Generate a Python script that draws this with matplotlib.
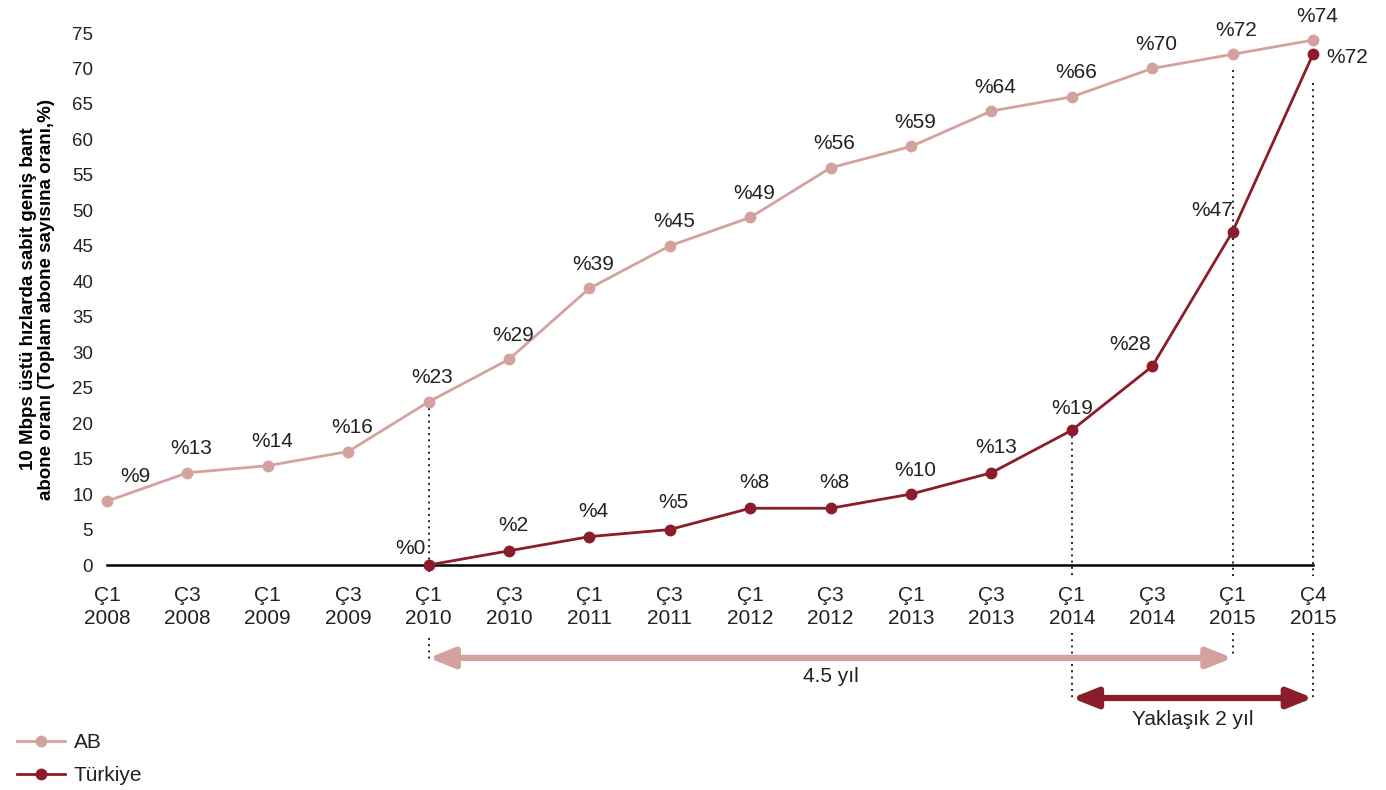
import numpy as np
import matplotlib.pyplot as plt

plt.rcParams['font.family'] = ['Liberation Sans', 'DejaVu Sans']

# quarters on the x axis
quarters = ['Ç1\n2008', 'Ç3\n2008', 'Ç1\n2009', 'Ç3\n2009', 'Ç1\n2010', 'Ç3\n2010',
            'Ç1\n2011', 'Ç3\n2011', 'Ç1\n2012', 'Ç3\n2012', 'Ç1\n2013', 'Ç3\n2013',
            'Ç1\n2014', 'Ç3\n2014', 'Ç1\n2015', 'Ç4\n2015']

# share of fixed broadband subscriptions above 10 Mbps (%)
ab = [9, 13, 14, 16, 23, 29, 39, 45, 49, 56, 59, 64, 66, 70, 72, 74]
tr_start = 4
turkiye = [0, 2, 4, 5, 8, 8, 10, 13, 19, 28, 47, 72]

ab_color = '#d4a29e'
tr_color = '#8a1d29'
txt_color = '#222222'
dot_color = '#222222'

x = np.arange(len(quarters))
x_tr = np.arange(tr_start, tr_start + len(turkiye))

fig = plt.figure(figsize=(13.86, 7.90), dpi=100)
ax = fig.add_axes([107 / 1386, 1 - 565 / 790, 1206 / 1386, 532 / 790])

ax.plot(x, ab, color=ab_color, lw=2, marker='o', ms=7.5, label='AB', zorder=3, clip_on=False)
ax.plot(x_tr, turkiye, color=tr_color, lw=2, marker='o', ms=7.5, label='Türkiye',
        zorder=4, clip_on=False)
ax.axhline(0, color='black', lw=1.8, zorder=2, clip_on=False)

ax.set_xlim(0, len(quarters) - 1)
ax.set_ylim(0, 75)
ax.set_yticks(np.arange(0, 80, 5))
ax.set_xticks(x)
ax.set_xticklabels(quarters, fontsize=15, color=txt_color, linespacing=1.25)
ax.tick_params(axis='y', length=0, pad=10, labelsize=13.5, labelcolor=txt_color)
ax.tick_params(axis='x', length=0, pad=15)
for s in ax.spines.values():
    s.set_visible(False)

ax.set_ylabel('10 Mbps üstü hızlarda sabit geniş bant\nabone oranı (Toplam abone sayısına oranı,%)',
              fontsize=13.5, fontweight='bold', linespacing=1.05)
ax.yaxis.set_label_coords(-0.043, 0.5)

# value labels, pixel offsets from each point
ab_off = [(28, 25)] + [(4, 24)] * (len(ab) - 1)
tr_off = [(-18, 16), (4, 25), (4, 25), (4, 27), (4, 26), (4, 26), (4, 24), (5, 25),
          (0, 22), (-22, 22), (-20, 21), (34, -3)]
for xi, v, (dx, dy) in zip(x, ab, ab_off):
    ax.annotate('%' + str(v), (xi, v), xytext=(dx, dy), textcoords='offset pixels',
                ha='center', va='center', fontsize=15, color=txt_color, annotation_clip=False)
for xi, v, (dx, dy) in zip(x_tr, turkiye, tr_off):
    ax.annotate('%' + str(v), (xi, v), xytext=(dx, dy), textcoords='offset pixels',
                ha='center', va='center', fontsize=15, color=txt_color, annotation_clip=False)

# dotted guides: above the axis and below the tick labels
dot_kw = dict(color=dot_color, ls=(0, (1, 2.2)), lw=1.4, clip_on=False, zorder=1)
ax.plot([4, 4], [ab[4], -1.5], **dot_kw)
ax.plot([4, 4], [-10.3, -13.4], **dot_kw)
ax.plot([12, 12], [turkiye[12 - tr_start], -1.5], **dot_kw)
ax.plot([12, 12], [-9.6, -19.0], **dot_kw)
ax.plot([14, 14], [69.8, -1.5], **dot_kw)
ax.plot([14, 14], [-9.6, -12.8], **dot_kw)
ax.plot([15, 15], [67.9, -1.5], **dot_kw)
ax.plot([15, 15], [-9.6, -19.0], **dot_kw)

# time span arrows
arrow_style = '<|-|>,head_length=1.5,head_width=0.6'
ax.annotate('', xy=(14, -13.1), xytext=(4, -13.1), annotation_clip=False,
            arrowprops=dict(arrowstyle=arrow_style, color=ab_color, lw=4.5, shrinkA=0, shrinkB=0))
ax.text(9, -15.65, '4.5 yıl', ha='center', va='center', fontsize=15, color=txt_color)
ax.annotate('', xy=(15, -18.75), xytext=(12, -18.75), annotation_clip=False,
            arrowprops=dict(arrowstyle=arrow_style, color=tr_color, lw=4.5, shrinkA=0, shrinkB=0))
ax.text(13.5, -21.85, 'Yaklaşık 2 yıl', ha='center', va='center', fontsize=15, color=txt_color)

fig.legend(loc='lower left', bbox_to_anchor=(0.006, -0.004), frameon=False, fontsize=15,
           handlelength=2.3, handletextpad=0.45, labelspacing=0.65, borderaxespad=0.0,
           labelcolor=txt_color)

fig.savefig('out.png', dpi=100)
